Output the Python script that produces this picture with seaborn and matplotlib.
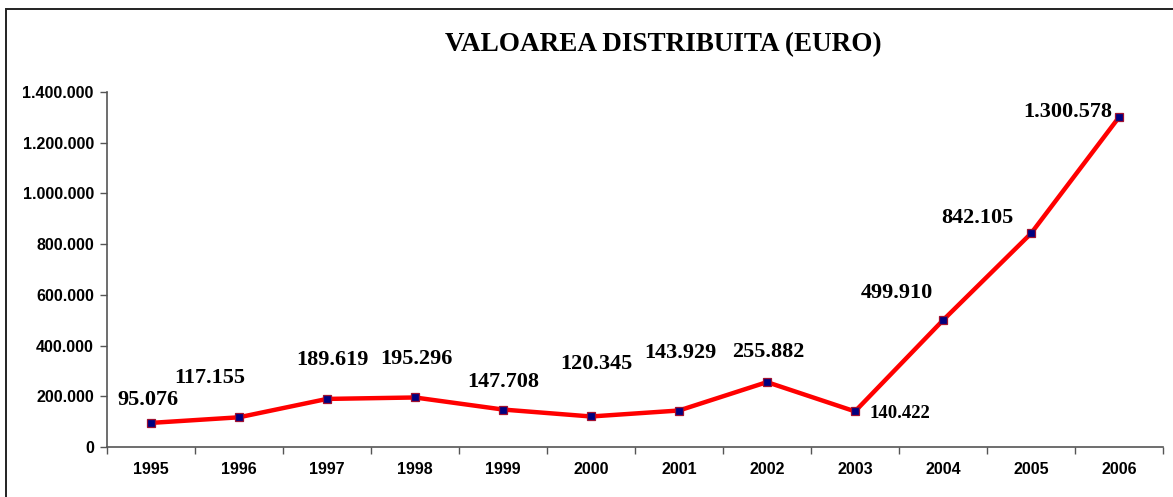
import numpy as np
import pandas as pd
import matplotlib
matplotlib.use('Agg')
import matplotlib.pyplot as plt
import seaborn as sns
from matplotlib.patches import Rectangle
from matplotlib.ticker import FuncFormatter, FixedLocator

years = ['1995', '1996', '1997', '1998', '1999', '2000',
         '2001', '2002', '2003', '2004', '2005', '2006']
values = [95076, 117155, 189619, 195296, 147708, 120345,
          143929, 255882, 140422, 499910, 842105, 1300578]
labels = ['95.076', '117.155', '189.619', '195.296', '147.708', '120.345',
          '143.929', '255.882', '140.422', '499.910', '842.105', '1.300.578']

# label placement relative to each point (pixels, x right / y up)
label_offsets = [(-3, 23), (-29, 39), (5, 39), (1, 38), (0, 28), (5, 52),
                 (1, 58), (1, 30), (45, -2), (-46, 27), (-54, 15), (-51, 5)]
label_sizes = [16, 16, 16, 16, 16, 16, 16, 16, 13.5, 16, 16, 16]

df = pd.DataFrame({'year': years, 'value': values})

sns.set_style('white')
plt.rcParams['font.family'] = ['Liberation Sans', 'DejaVu Sans']
plt.rcParams['text.color'] = 'black'
plt.rcParams['xtick.color'] = 'black'
plt.rcParams['ytick.color'] = 'black'

fig = plt.figure(figsize=(11.73, 4.97), dpi=100)
ax = fig.add_axes([107 / 1173, 1 - 447 / 497, (1163 - 107) / 1173, (447 - 92) / 497])

sns.lineplot(data=df, x='year', y='value', ax=ax, color='#ff0000', linewidth=3.2,
             marker='s', markersize=5.5, markerfacecolor='#000080',
             markeredgecolor='#a01030', markeredgewidth=0.9, sort=False)

for i, (lab, off, fs) in enumerate(zip(labels, label_offsets, label_sizes)):
    ax.annotate(lab, (i, values[i]), xytext=off, textcoords='offset pixels',
                ha='center', va='center', fontsize=fs, fontweight='bold',
                family='Liberation Serif', color='black')

ax.set_xlim(-0.5, len(years) - 0.5)
ax.set_ylim(0, 1400000)
ax.set_yticks(np.arange(0, 1400001, 200000))
ax.yaxis.set_major_formatter(FuncFormatter(lambda v, p: f'{int(v):,}'.replace(',', '.')))

# category boundaries as tick marks, labels at centers
ax.xaxis.set_major_locator(FixedLocator(np.arange(-0.5, len(years), 1.0)))
ax.xaxis.set_minor_locator(FixedLocator(np.arange(len(years))))
ax.set_xticklabels([], minor=False)
ax.set_xticklabels(years, minor=True)
ax.tick_params(axis='x', which='major', length=5, width=1, color='#555555', direction='out', bottom=True)
ax.tick_params(axis='x', which='minor', length=0, pad=11, labelsize=11.5, labelcolor='black')
ax.tick_params(axis='y', length=5, width=1, color='#555555', direction='out', left=True,
               labelsize=11.5, pad=4.5, labelcolor='black')
for t in ax.get_xticklabels(minor=True) + ax.get_yticklabels():
    t.set_fontweight('bold')

ax.set_xlabel('')
ax.set_ylabel('')
for s in ['top', 'right']:
    ax.spines[s].set_visible(False)
for s in ['left', 'bottom']:
    ax.spines[s].set_color('#555555')
    ax.spines[s].set_linewidth(1.2)

fig.text(663 / 1173, 1 - 45 / 497, 'VALOAREA DISTRIBUITA (EURO)', ha='center', va='center',
         fontsize=19.5, fontweight='bold', family='Liberation Serif', color='black')

# frame: only top and left edges are visible in the crop
fig.add_artist(Rectangle((6 / 1173, -0.05), 1.0, 1.05 - 8.5 / 497,
                         transform=fig.transFigure, fill=False, lw=1.4, ec='#222222'))

fig.savefig('out.png', dpi=100)
